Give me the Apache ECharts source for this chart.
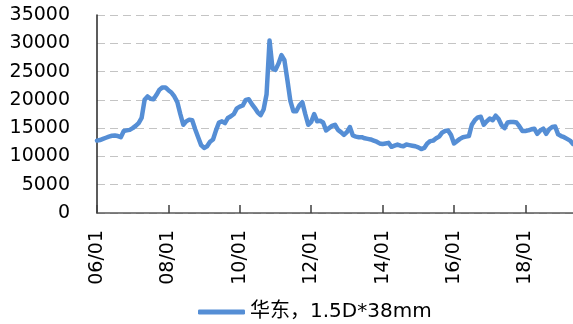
<!DOCTYPE html>
<html>
<head>
<meta charset="utf-8">
<script src="https://cdn.jsdelivr.net/npm/echarts@6/dist/echarts.min.js"></script>
<style>
html,body{margin:0;padding:0;background:#fff;}
#c{width:573px;height:324px;}
</style>
</head>
<body>
<div id="c"></div>
<script>
// Monthly series, 2006/01 .. 2019/05
const startYear = 2006;
const seriesName = '华东，1.5D*38mm';
const yTicks = [0, 5000, 10000, 15000, 20000, 25000, 30000, 35000];
const v2006 = [12800,12900,13100,13300,13500,13650,13700,13600,13400,14500,14600,14700];
const v2007 = [15000,15400,15900,16800,20000,20600,20200,20100,20900,21800,22200,22200];
const v2008 = [21700,21300,20600,19600,17500,15600,16200,16500,16400,14800,13400,12000];
const v2009 = [11500,11800,12600,13000,14600,16000,16200,15900,16800,17100,17500,18500];
const v2010 = [18800,19000,20000,20100,19300,18600,17800,17300,18300,21000,30500,25500];
const v2011 = [25300,26400,27900,27000,23500,19800,18000,18000,19000,19600,17500,15600];
const v2012 = [16100,17500,16200,16300,16000,14600,15000,15400,15600,14700,14300,13800];
const v2013 = [14300,15200,13700,13500,13400,13400,13200,13100,13000,12800,12600,12300];
const v2014 = [12200,12300,12400,11700,11900,12100,11900,11800,12100,12000,11900,11800];
const v2015 = [11600,11300,11500,12300,12700,12800,13200,13500,14200,14500,14600,13800];
const v2016 = [12300,12700,13100,13400,13500,13600,15600,16400,16900,17000,15600,16200];
const v2017 = [16700,16400,17200,16600,15500,15000,16000,16100,16100,16000,15300,14500];
const v2018 = [14500,14600,14800,14900,14000,14600,14900,14000,14800,15200,15300,13900];
const v2019 = [13600,13400,13100,12800,12200];

const values = [].concat(v2006,v2007,v2008,v2009,v2010,v2011,v2012,v2013,v2014,v2015,v2016,v2017,v2018,v2019);
const categories = values.map((_, i) => {
  const y = startYear + Math.floor(i / 12);
  const m = (i % 12) + 1;
  return String(y % 100).padStart(2, '0') + '/' + String(m).padStart(2, '0');
});

const chart = echarts.init(document.getElementById('c'), null, {renderer: 'canvas'});
const font = '"DejaVu Sans", "Noto Sans CJK SC", sans-serif';
const lineColor = '#558ED5';
chart.setOption({
  animation: false,
  backgroundColor: '#ffffff',
  textStyle: {fontFamily: font},
  grid: {left: 97, right: 0, top: 15, bottom: 111, containLabel: false},
  legend: {
    left: 193, top: 297,
    itemWidth: 47, itemHeight: 5, itemGap: 8,
    icon: 'roundRect',
    textStyle: {fontSize: 20, color: '#000', fontFamily: font},
    data: [seriesName]
  },
  xAxis: {
    type: 'category',
    data: categories,
    boundaryGap: false,
    axisLine: {lineStyle: {color: '#595959', width: 1.5}},
    axisTick: {show: true, inside: true, length: 8, interval: 23, lineStyle: {color: '#404040', width: 1.5}},
    axisLabel: {interval: 23, rotate: 90, fontSize: 19, color: '#000', margin: 17, fontFamily: font},
    splitLine: {show: false}
  },
  yAxis: {
    type: 'value',
    min: yTicks[0], max: yTicks[yTicks.length - 1], interval: 5000,
    axisLine: {show: true, lineStyle: {color: '#262626', width: 1.5}},
    axisTick: {show: false},
    axisLabel: {fontSize: 19, color: '#000', margin: 27, fontFamily: font, formatter: v => String(v)},
    splitLine: {show: true, lineStyle: {color: '#C4C4C4', width: 1.2, type: [8, 5]}}
  },
  series: [{
    name: seriesName,
    type: 'line',
    data: values,
    showSymbol: false,
    symbol: 'none',
    lineStyle: {color: lineColor, width: 4.5, cap: 'round', join: 'round'},
    itemStyle: {color: lineColor},
    clip: true
  }]
});
</script>
</body>
</html>
